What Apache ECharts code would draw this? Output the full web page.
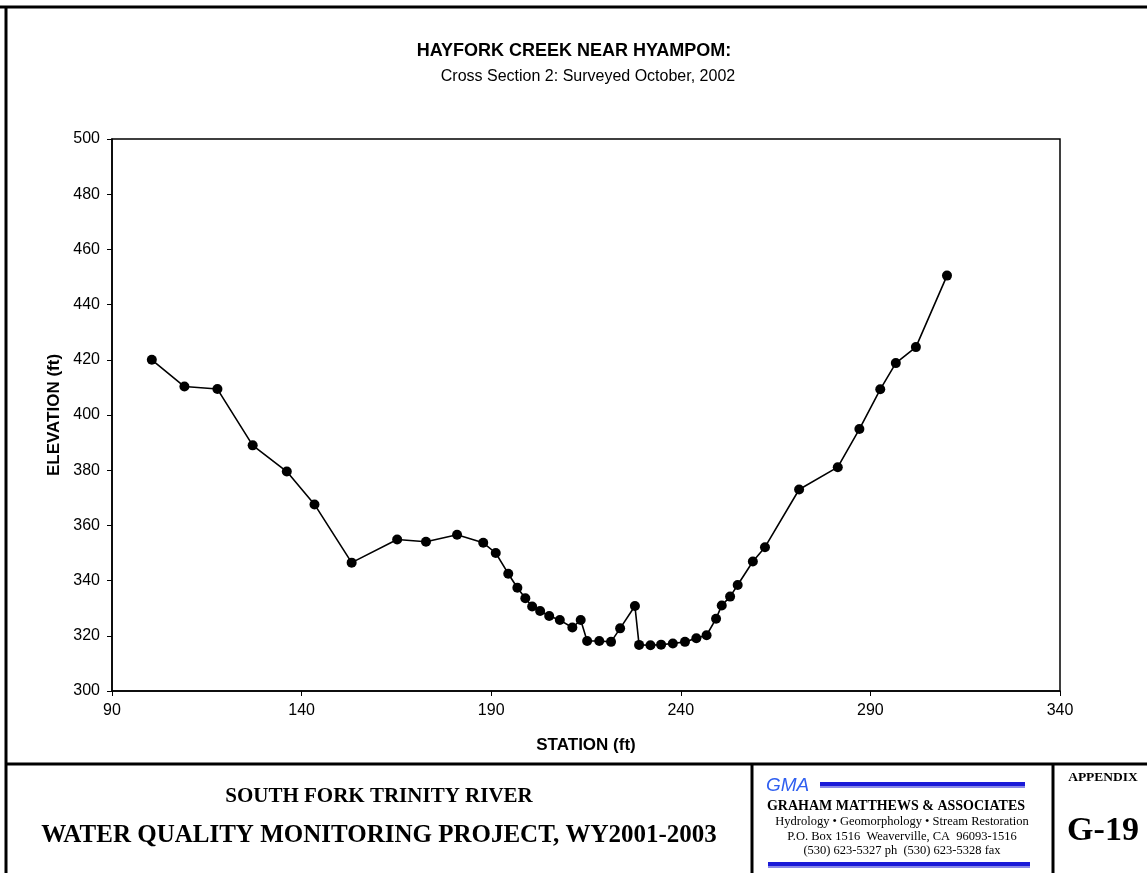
<!DOCTYPE html>
<html lang="en">

<head>
    <meta charset="UTF-8">
    <title>Hayfork Creek Cross Section 2</title>
    <style>
        html, body {
            margin: 0;
            padding: 0;
            background: #fff;
        }
        #app {
            width: 1147px;
            height: 873px;
        }
    </style>
</head>

<body>
    <div id="app"></div>
</body>
<script src="https://cdn.jsdelivr.net/npm/echarts@6/dist/echarts.min.js"></script>
<script>
    // survey points
    var station = [100.5, 109.1, 117.8, 127.1, 136.1, 143.4, 153.2, 165.2, 172.8, 181.0,
        187.9, 191.2, 194.5, 196.9, 199.0, 200.8, 202.9, 205.3, 208.1, 211.4,
        213.6, 215.3, 218.5, 221.6, 224.0, 227.9, 229.0, 232.0, 234.8, 237.9,
        241.1, 244.1, 246.8, 249.3, 250.8, 253.0, 255.0, 259.0, 262.2, 271.2,
        281.4, 287.1, 292.6, 296.7, 302.0, 310.2];
    var elevation = [420.0, 410.3, 409.4, 389.0, 379.5, 367.6, 346.5, 354.9, 354.1, 356.6,
        353.7, 350.0, 342.5, 337.4, 333.6, 330.6, 329.0, 327.2, 325.7, 323.0,
        325.7, 318.1, 318.1, 317.8, 322.7, 330.8, 316.7, 316.6, 316.8, 317.2,
        317.8, 319.1, 320.2, 326.2, 331.0, 334.2, 338.4, 346.9, 352.1, 373.0,
        381.1, 394.9, 409.3, 418.8, 424.6, 450.5];

    var xTicks = [90, 140, 190, 240, 290, 340];
    var yTicks = [300, 320, 340, 360, 380, 400, 420, 440, 460, 480, 500];

    var title = 'HAYFORK CREEK NEAR HYAMPOM:';
    var subtitle = 'Cross Section 2: Surveyed October, 2002';
    var footerLines = ['SOUTH FORK TRINITY RIVER', 'WATER QUALITY MONITORING PROJECT, WY2001-2003'];
    var firmLines = ['GRAHAM MATTHEWS & ASSOCIATES',
        'Hydrology \u2022 Geomorphology \u2022 Stream Restoration',
        'P.O. Box 1516  Weaverville, CA  96093-1516',
        '(530) 623-5327 ph  (530) 623-5328 fax'];

    var points = station.map(function (s, i) {
        return [s, elevation[i]];
    });

    var sans = '"Liberation Sans", Arial, sans-serif';
    var serif = '"Liberation Serif", "Times New Roman", serif';

    var chart = echarts.init(document.getElementById('app'));

    var option = {
        backgroundColor: '#fff',
        animation: false,
        title: [{
            text: title,
            left: 569,
            top: 37,
            textAlign: 'center',
            textStyle: {
                fontFamily: sans,
                fontSize: 18,
                fontWeight: 'bold',
                color: '#000'
            }
        }, {
            text: subtitle,
            left: 583,
            top: 64,
            textAlign: 'center',
            textStyle: {
                fontFamily: sans,
                fontSize: 16,
                fontWeight: 'normal',
                color: '#000'
            }
        }],
        grid: {
            left: 112,
            top: 139,
            right: 87,
            bottom: 182,
            show: true,
            borderColor: '#000',
            borderWidth: 1.5,
            backgroundColor: '#fff'
        },
        xAxis: {
            type: 'value',
            min: xTicks[0],
            max: xTicks[xTicks.length - 1],
            interval: 50,
            name: 'STATION (ft)',
            nameLocation: 'middle',
            nameGap: 46,
            nameTextStyle: {
                fontFamily: sans,
                fontSize: 17,
                fontWeight: 'bold',
                color: '#000'
            },
            axisLine: {
                lineStyle: { color: '#000', width: 1.5 }
            },
            axisTick: {
                show: true,
                inside: false,
                length: 5,
                lineStyle: { color: '#000' }
            },
            axisLabel: {
                fontFamily: sans,
                fontSize: 16,
                color: '#000',
                margin: 12
            },
            splitLine: { show: false }
        },
        yAxis: {
            type: 'value',
            min: yTicks[0],
            max: yTicks[yTicks.length - 1],
            interval: 20,
            name: 'ELEVATION (ft)',
            nameLocation: 'middle',
            nameGap: 48,
            nameRotate: 90,
            nameTextStyle: {
                fontFamily: sans,
                fontSize: 17,
                fontWeight: 'bold',
                color: '#000'
            },
            axisLine: {
                show: true,
                lineStyle: { color: '#000', width: 1.5 }
            },
            axisTick: {
                show: true,
                length: 5,
                lineStyle: { color: '#000' }
            },
            axisLabel: {
                fontFamily: sans,
                fontSize: 16,
                color: '#000',
                margin: 12
            },
            splitLine: { show: false }
        },
        series: [{
            type: 'line',
            data: points,
            symbol: 'circle',
            symbolSize: 10,
            itemStyle: { color: '#000' },
            lineStyle: { color: '#000', width: 1.6 }
        }],
        graphic: [
            // outer frame
            { type: 'line', shape: { x1: 0, y1: 7, x2: 1147, y2: 7 }, style: { stroke: '#000', lineWidth: 3 } },
            { type: 'line', shape: { x1: 6, y1: 7, x2: 6, y2: 873 }, style: { stroke: '#000', lineWidth: 3 } },
            { type: 'line', shape: { x1: 6, y1: 764, x2: 1147, y2: 764 }, style: { stroke: '#000', lineWidth: 3 } },
            { type: 'line', shape: { x1: 752, y1: 764, x2: 752, y2: 873 }, style: { stroke: '#000', lineWidth: 3 } },
            { type: 'line', shape: { x1: 1053, y1: 764, x2: 1053, y2: 873 }, style: { stroke: '#000', lineWidth: 3 } },
            // project title
            {
                type: 'text', x: 379, y: 797,
                style: { text: footerLines[0], font: 'bold 21px ' + serif, fill: '#000', textAlign: 'center', textVerticalAlign: 'middle' }
            },
            {
                type: 'text', x: 379, y: 836,
                style: { text: footerLines[1], font: 'bold 25px ' + serif, fill: '#000', textAlign: 'center', textVerticalAlign: 'middle' }
            },
            // firm block
            {
                type: 'text', x: 766, y: 786,
                style: { text: 'GMA', font: 'italic 19px ' + sans, fill: '#2f5ff0', textAlign: 'left', textVerticalAlign: 'middle' }
            },
            { type: 'rect', shape: { x: 820, y: 782, width: 205, height: 4 }, style: { fill: '#1a1ad8' } },
            { type: 'rect', shape: { x: 820, y: 786, width: 205, height: 2 }, style: { fill: '#8a8ae8' } },
            { type: 'rect', shape: { x: 768, y: 862, width: 262, height: 4 }, style: { fill: '#1a1ad8' } },
            { type: 'rect', shape: { x: 768, y: 866, width: 262, height: 2 }, style: { fill: '#8a8ae8' } },
            {
                type: 'text', x: 896, y: 806,
                style: { text: firmLines[0], font: 'bold 14px ' + serif, fill: '#000', textAlign: 'center', textVerticalAlign: 'middle' }
            },
            {
                type: 'text', x: 902, y: 822,
                style: { text: firmLines[1], font: '12.5px ' + serif, fill: '#000', textAlign: 'center', textVerticalAlign: 'middle' }
            },
            {
                type: 'text', x: 902, y: 837,
                style: { text: firmLines[2], font: '12.5px ' + serif, fill: '#000', textAlign: 'center', textVerticalAlign: 'middle' }
            },
            {
                type: 'text', x: 902, y: 851,
                style: { text: firmLines[3], font: '12.5px ' + serif, fill: '#000', textAlign: 'center', textVerticalAlign: 'middle' }
            },
            // appendix
            {
                type: 'text', x: 1103, y: 778,
                style: { text: 'APPENDIX', font: 'bold 13.5px ' + serif, fill: '#000', textAlign: 'center', textVerticalAlign: 'middle' }
            },
            {
                type: 'text', x: 1103, y: 831,
                style: { text: 'G-19', font: 'bold 34px ' + serif, fill: '#000', textAlign: 'center', textVerticalAlign: 'middle' }
            }
        ]
    };
    chart.setOption(option);
</script>

</html>
